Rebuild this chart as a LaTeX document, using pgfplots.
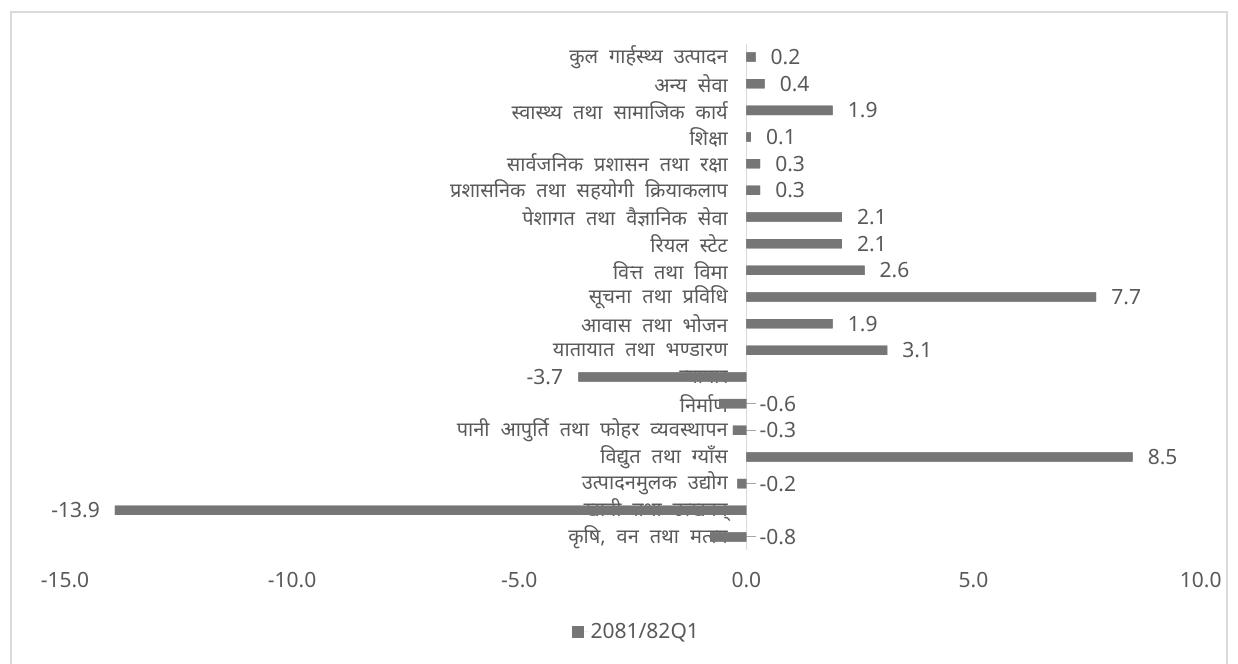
\documentclass[border=0pt]{standalone}
\usepackage{fontspec}
\usepackage{pgfplots}
\usepackage{pgfplotstable}
\pgfplotsset{compat=1.18}
\setmainfont{Noto Sans}
\newfontfamily\devfont[Script=Devanagari, WordSpace=2.1]{Noto Sans}
\definecolor{txt}{RGB}{89,89,89}
\definecolor{barc}{RGB}{118,118,118}
\definecolor{axc}{RGB}{217,217,217}
\definecolor{leadc}{RGB}{166,166,166}

\pgfplotstableread{
y val
0 -0.8
1 -13.9
2 -0.2
3 8.5
4 -0.3
5 -0.6
6 -3.7
7 3.1
8 1.9
9 7.7
10 2.6
11 2.1
12 2.1
13 0.3
14 0.3
15 0.1
16 1.9
17 0.4
18 0.2
}\bars

\pgfplotstableread{
y val lab
3 8.5 8.5
7 3.1 3.1
8 1.9 1.9
9 7.7 7.7
10 2.6 2.6
11 2.1 2.1
12 2.1 2.1
13 0.3 0.3
14 0.3 0.3
15 0.1 0.1
16 1.9 1.9
17 0.4 0.4
18 0.2 0.2
}\poslab

\pgfplotstableread{
y val lab
0 0 -0.8
2 0 -0.2
4 0 -0.3
5 0 -0.6
}\smallneg

\pgfplotstableread{
y val lab
1 -13.9 -13.9
6 -3.7 -3.7
}\bigneg

\pgfplotsset{
  commonaxis/.style={
    at={(65bp,113.7bp)}, anchor=south west,
    scale only axis,
    width=1135.7bp, height=506.6bp,
    xmin=-15, xmax=10, ymin=-0.5, ymax=18.5,
    enlargelimits=false,
    clip=false,
  }
}

\begin{document}
\begin{tikzpicture}
\path[use as bounding box] (0bp,0bp) rectangle (1238bp,664bp);
\draw[axc, line width=1.3bp] (11bp,-10bp) -- (11bp,652bp) -- (1227bp,652bp) -- (1227bp,-10bp);
\begin{axis}[
  commonaxis,
  axis line style={draw=none},
  major tick length=0pt,
  xtick={-15,-10,-5,0,5,10},
  xticklabels={-15.0,-10.0,-5.0,0.0,5.0,10.0},
  xticklabel style={font=\fontsize{21bp}{25bp}\selectfont, text=txt, anchor=north, inner sep=0pt, yshift=-22bp},
  ytick={0,...,18},
  yticklabels={
    {कृषि, वन तथा मत्स्य},
    {खानी तथा उत्खनन्},
    {उत्पादनमुलक उद्योग},
    {विद्युत तथा ग्याँस},
    {पानी आपुर्ति तथा फोहर व्यवस्थापन},
    {निर्माण},
    {व्यापार},
    {यातायात तथा भण्डारण},
    {आवास तथा भोजन},
    {सूचना तथा प्रविधि},
    {वित्त तथा विमा},
    {रियल स्टेट},
    {पेशागत तथा वैज्ञानिक सेवा},
    {प्रशासनिक तथा सहयोगी क्रियाकलाप},
    {सार्वजनिक प्रशासन तथा रक्षा},
    {शिक्षा},
    {स्वास्थ्य तथा सामाजिक कार्य},
    {अन्य सेवा},
    {कुल गार्हस्थ्य उत्पादन}},
  yticklabel style={font=\devfont\fontsize{20bp}{24bp}\selectfont, text=txt, anchor=east, inner sep=0pt, xshift=663bp},
  legend style={at={(0.503,-0.161)}, anchor=center, draw=none, fill=none,
    font=\fontsize{21bp}{25bp}\selectfont, text=txt},
  legend image code/.code={\fill[barc] (0bp,-6bp) rectangle (12bp,6bp); \path (0bp,0bp) -- (17bp,0bp);},
  nodes near coords style={font=\fontsize{21bp}{25bp}\selectfont, text=txt, inner sep=0pt},
]
% y axis line at zero
\addplot[forget plot, draw=axc, line width=1.3bp] coordinates {(0,-0.5) (0,18.5)};
% leader lines
\addplot[forget plot, draw=leadc, line width=1bp] coordinates {(-0.4,0) (0.22,0)};
\addplot[forget plot, draw=leadc, line width=1bp] coordinates {(-0.1,2) (0.22,2)};
\addplot[forget plot, draw=leadc, line width=1bp] coordinates {(-0.15,4) (0.22,4)};
\addplot[forget plot, draw=leadc, line width=1bp] coordinates {(-0.3,5) (0.22,5)};
% bars
\addplot[xbar, bar width=9.3bp, fill=barc, draw=none] table[x=val, y=y] {\bars};
\addlegendentry{2081/82Q1}
% data labels
\addplot[forget plot, draw=none, nodes near coords, point meta=explicit symbolic,
  nodes near coords style={anchor=west, xshift=15bp}] table[x=val, y=y, meta=lab] {\poslab};
\addplot[forget plot, draw=none, nodes near coords, point meta=explicit symbolic,
  nodes near coords style={anchor=west, xshift=13bp}] table[x=val, y=y, meta=lab] {\smallneg};
\addplot[forget plot, draw=none, nodes near coords, point meta=explicit symbolic,
  nodes near coords style={anchor=east, xshift=-15bp}] table[x=val, y=y, meta=lab] {\bigneg};
\end{axis}
% overlay: bars drawn again above the category labels, as in the reference
\begin{axis}[commonaxis, hide axis]
\addplot[forget plot, xbar, bar width=9.3bp, fill=barc, draw=none] table[x=val, y=y] {\bars};
\end{axis}
\end{tikzpicture}
\end{document}
